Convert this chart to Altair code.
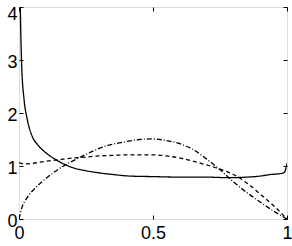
import altair as alt
import pandas as pd

# Solid curve
solid_x = [0.0, 0.004, 0.01, 0.019, 0.03, 0.05, 0.07, 0.1, 0.134, 0.17, 0.2, 0.25,
           0.3, 0.35, 0.414, 0.5, 0.6, 0.7, 0.78, 0.85, 0.9, 0.94, 0.965, 0.98, 0.99, 1.0]
solid_y = [6.0, 4.3, 2.9, 2.25, 1.9, 1.55, 1.4, 1.25, 1.13, 1.03, 0.97, 0.91,
           0.87, 0.84, 0.81, 0.80, 0.79, 0.79, 0.78, 0.79, 0.81, 0.84, 0.85, 0.86, 0.88, 1.05]

# Dashed curve
dash_x = [0.0, 0.02, 0.05, 0.1, 0.15, 0.2, 0.25, 0.3, 0.35, 0.4, 0.45, 0.5, 0.55,
          0.6, 0.65, 0.7, 0.75, 0.8, 0.85, 0.9, 0.95, 1.0]
dash_y = [1.06, 1.04, 1.05, 1.09, 1.12, 1.15, 1.17, 1.19, 1.2, 1.21, 1.21, 1.21, 1.19,
          1.15, 1.09, 1.02, 0.94, 0.84, 0.68, 0.47, 0.25, 0.0]

# Dash-dot curve
dd_x = [0.0, 0.01, 0.03, 0.06, 0.09, 0.13, 0.18, 0.23, 0.28, 0.32, 0.4, 0.45, 0.5,
        0.55, 0.6, 0.65, 0.7, 0.75, 0.8, 0.85, 0.9, 0.95, 1.0]
dd_y = [0.0, 0.2, 0.4, 0.58, 0.72, 0.88, 1.04, 1.17, 1.29, 1.37, 1.46, 1.5, 1.51,
        1.48, 1.42, 1.31, 1.13, 0.93, 0.7, 0.5, 0.32, 0.15, 0.0]

x_ticks = [0, 0.5, 1]
y_ticks = [0, 1, 2, 3, 4]
series_names = ["solid", "dashed", "dashdot"]

rows = []
for name, xs, ys in [("solid", solid_x, solid_y), ("dashed", dash_x, dash_y), ("dashdot", dd_x, dd_y)]:
    for i, (a, b) in enumerate(zip(xs, ys)):
        rows.append({"x": a, "y": b, "series": name, "order": i})
df = pd.DataFrame(rows)

FONT = "Liberation Sans"

xscale = alt.Scale(domain=[0, 1], nice=False, zero=False)
yscale = alt.Scale(domain=[0, 4], nice=False, zero=False)
dash_scale = alt.Scale(domain=series_names, range=[[1, 0], [4, 3], [5, 2, 1, 2]])
width_scale = alt.Scale(domain=series_names, range=[1.3, 1.3, 1.0])

main = alt.Chart(df).mark_line(clip=True, color="black", interpolate="monotone").encode(
    x=alt.X("x:Q", scale=xscale, title=None,
            axis=alt.Axis(values=x_ticks, format="~g", offset=-4, tickSize=4, tickColor="black",
                          tickWidth=1, domain=False, grid=False, labelPadding=5, labelFlush=False,
                          labelFont=FONT, labelFontSize=18, labelColor="black")),
    y=alt.Y("y:Q", scale=yscale, title=None,
            axis=alt.Axis(values=y_ticks, format="d", offset=-4, tickSize=4, tickColor="black",
                          tickWidth=1, domain=False, grid=False, labelPadding=2, labelFlush=False,
                          labelOffset=alt.ExprRef(expr="datum.value == 4 ? 7 : 2"),
                          labelFont=FONT, labelFontSize=18, labelColor="black")),
    strokeDash=alt.StrokeDash("series:N", scale=dash_scale, legend=None),
    strokeWidth=alt.StrokeWidth("series:N", scale=width_scale, legend=None),
    detail="series:N",
    order="order:Q",
)

mirror = alt.Chart(df).mark_line(clip=True, strokeOpacity=0).encode(
    x=alt.X("x:Q", scale=xscale, title=None,
            axis=alt.Axis(orient="top", values=x_ticks, offset=-4, tickSize=4, tickColor="black",
                          tickWidth=1, domain=False, grid=False, labels=False)),
    y=alt.Y("y:Q", scale=yscale, title=None,
            axis=alt.Axis(orient="right", values=y_ticks, offset=-4, tickSize=4, tickColor="black",
                          tickWidth=1, domain=False, grid=False, labels=False)),
    detail="series:N",
    order="order:Q",
)

chart = alt.layer(main, mirror).resolve_axis(x="independent", y="independent").properties(
    width=268, height=212,
    autosize=alt.AutoSizeParams(type="none"),
    padding={"left": 19, "top": 7, "right": 5, "bottom": 27},
).configure_view(stroke="black", strokeWidth=1.5).configure(background="white")

chart.save("out.html", embed_options={"renderer": "svg", "actions": False})
